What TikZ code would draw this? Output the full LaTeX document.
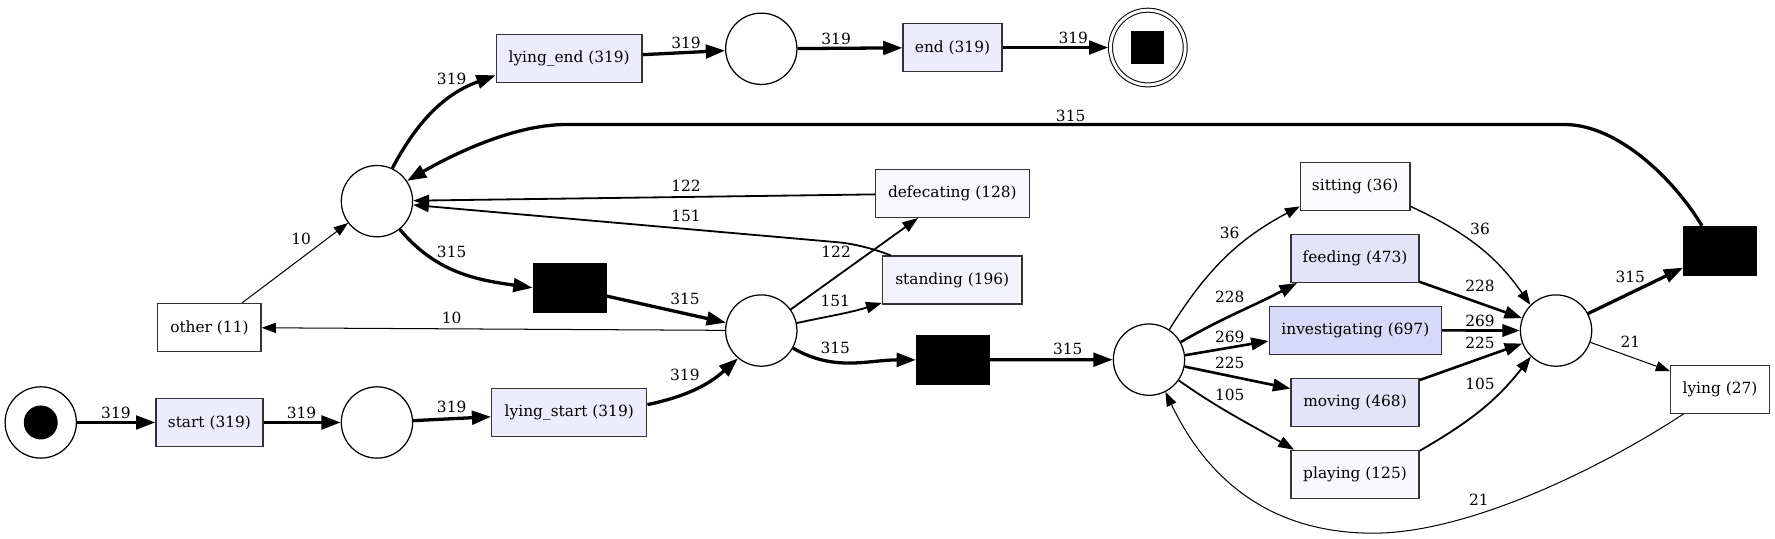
\documentclass[tikz,border=0pt]{standalone}
\usepackage{fontspec}
\setmainfont{DejaVu Serif}
\usetikzlibrary{arrows.meta,calc}
\definecolor{c697}{HTML}{D8D8F8}
\definecolor{c470}{HTML}{E3E3FA}
\definecolor{c319}{HTML}{ECECFC}
\definecolor{c196}{HTML}{F3F3FD}
\definecolor{c125}{HTML}{F8F8FE}
\definecolor{c36}{HTML}{FCFCFF}
\definecolor{c11}{HTML}{FFFFFF}
\definecolor{bord}{HTML}{333333}
\tikzset{
  place/.style={circle, draw=black, line width=1.1pt, minimum size=63pt, inner sep=0pt},
  act/.style={rectangle, draw=bord, line width=1.1pt, minimum height=42.4pt, inner sep=0pt, font=\fontsize{13.6}{16}\selectfont},
  blk/.style={rectangle, fill=black, draw=black, minimum width=64.5pt, minimum height=43.3pt, inner sep=0pt},
  lbl/.style={inner sep=0pt, font=\fontsize{13.6}{16}\selectfont},
  eA/.style={line width=2.9pt, -{Triangle[length=17pt,width=12pt]}},
  eB/.style={line width=2.3pt, -{Triangle[length=15.5pt,width=11pt]}},
  eC/.style={line width=1.6pt, -{Triangle[length=14pt,width=10pt]}},
  eD/.style={line width=1.2pt, -{Triangle[length=13pt,width=9.5pt]}},
  eE/.style={line width=0.9pt, -{Triangle[length=12.5pt,width=9pt]}},
}
\begin{document}
\begin{tikzpicture}[x=1pt,y=-1pt]
\useasboundingbox[fill=white] (0,0) rectangle (1568,476);
% places
\node[place] (init) at (36,373.2) {};
\fill (init.center) circle (15pt);
\node[place] (p1) at (333,373.2) {};
\node[place] (pU) at (333,177.7) {};
\node[place] (p2) at (672.5,292) {};
\node[place] (p3) at (672.5,43.1) {};
\node[place] (p4) at (1015,317.7) {};
\node[place] (p5) at (1374.6,292) {};
\node[circle, draw=black, line width=0.9pt, double, double distance=2.6pt, minimum size=66pt, inner sep=0pt, outer sep=2pt] (final) at (1014,42) {};
\fill ([shift={(-14.5,-14.5)}]final.center) rectangle ++(29,29);
% transitions
\node[act, fill=c319, minimum width=94.6pt] (start) at (185,373.2) {start (319)};
\node[act, fill=c319, minimum width=137pt] (lstart) at (502.9,364.7) {lying\_start (319)};
\node[act, fill=c319, minimum width=128.8pt] (lend) at (502.8,51.5) {lying\_end (319)};
\node[act, fill=c319, minimum width=87.3pt] (end) at (841.4,42) {end (319)};
\node[act, fill=c11, minimum width=91.3pt] (other) at (185,289.3) {other (11)};
\node[act, fill=c125, minimum width=136pt] (defec) at (841.3,170.8) {defecating (128)};
\node[act, fill=c196, minimum width=123.3pt] (stand) at (841.2,247.4) {standing (196)};
\node[act, fill=c36, minimum width=96.8pt] (sit) at (1197.1,164.5) {sitting (36)};
\node[act, fill=c470, minimum width=113pt] (feed) at (1197,228.2) {feeding (473)};
\node[act, fill=c697, minimum width=152pt] (inv) at (1197.3,291.8) {investigating (697)};
\node[act, fill=c470, minimum width=113pt] (mov) at (1197,355.4) {moving (468)};
\node[act, fill=c125, minimum width=113pt] (play) at (1197,419) {playing (125)};
\node[act, fill=c11, minimum width=87.3pt] (lying) at (1519.4,343.9) {lying (27)};
\node[blk] (t1) at (502.9,254.2) {};
\node[blk] (t2) at (841.6,317.9) {};
\node[blk] (t3) at (1519.3,221.3) {};
% edges
\draw[eA] (init) -- (start) node[lbl] at (102.4,364.5) {319};
\draw[eA] (start) -- (p1) node[lbl] at (266.4,364.5) {319};
\draw[eA] (p1) -- (lstart) node[lbl] at (399,359.8) {319};
\draw[eA] (lstart.6) to[out=12, in=222] (p2.230) node[lbl] at (605,331.3) {319};
\draw[eE] (p2) -- (other) node[lbl] at (399,281) {10};
\draw[eE] (other) -- (pU) node[lbl] at (266,211) {10};
\draw[eA] (pU.65) to[out=62, in=200] (lend.193) node[lbl] at (399,69.8) {319};
\draw[eA] (lend) -- (p3) node[lbl] at (606,37.7) {319};
\draw[eA] (p3) -- (end) node[lbl] at (738.6,34.8) {319};
\draw[eA] (end) -- (final) node[lbl] at (948.1,33.9) {319};
\draw[eA] (pU.-51) to[out=-50, in=172] (t1.west) node[lbl] at (399,222.9) {315};
\draw[eA] (t1) -- (p2) node[lbl] at (605.1,264.4) {315};
\draw[eC] (p2) -- (defec) node[lbl] at (738.6,222.3) {122};
\draw[eC] (p2.12) to[out=12, in=197] (stand.198) node[lbl] at (737.9,265.6) {151};
\draw[eC] (defec) -- (pU) node[lbl] at (606,164) {122};
\draw[eC] ([xshift=8pt]stand.north west) .. controls (770,219) and (752,215) .. (740,214) -- (pU.-6) node[lbl] at (606,190.5) {151};
\draw[eA] (p2.-29) to[out=-30, in=180] (t2.west) node[lbl] at (737.9,307.7) {315};
\draw[eA] (t2) -- (p4) node[lbl] at (943.2,308.6) {315};
\draw[eD] (p4.56) to[out=58, in=208] (sit.200) node[lbl] at (1086.3,206) {36};
\draw[eB] (p4.29) to[out=30, in=208] (feed.203) node[lbl] at (1086.3,262.1) {228};
\draw[eB] (p4.7) -- (inv.187) node[lbl] at (1086.3,297.4) {269};
\draw[eB] (p4.-11) -- (mov.168) node[lbl] at (1086.3,320.9) {225};
\draw[eC] (p4.-35) to[out=-35, in=150] (play.158) node[lbl] at (1086.3,348.8) {105};
\draw[eD] (sit.-20) to[out=-25, in=125] (p5.135) node[lbl] at (1307.4,202.6) {36};
\draw[eB] (feed.-20) -- (p5.160) node[lbl] at (1307.4,252.4) {228};
\draw[eB] (inv) -- (p5) node[lbl] at (1307.4,283.3) {269};
\draw[eB] (mov.19) -- (p5.201) node[lbl] at (1307.4,302.8) {225};
\draw[eC] (play.20) to[out=30, in=232] (p5.226) node[lbl] at (1307.4,339.3) {105};
\draw[eA] (p5.28) -- (t3.205) node[lbl] at (1440.2,245) {315};
\draw[eE] (p5.-19) -- (lying.160) node[lbl] at (1440.2,302.2) {21};
\draw[eA] (t3.126) .. controls (1480,160) and (1430,110) .. (1382,110) -- (500,110) .. controls (450,110) and (392,141) .. (pU.34) node[lbl] at (945.8,102.2) {315};
\draw[eE] (lying.214) .. controls (1420,410) and (1300,471) .. (1213,471) .. controls (1110,471) and (1060,410) .. (p4.-63) node[lbl] at (1306.5,441.7) {21};
\end{tikzpicture}
\end{document}
